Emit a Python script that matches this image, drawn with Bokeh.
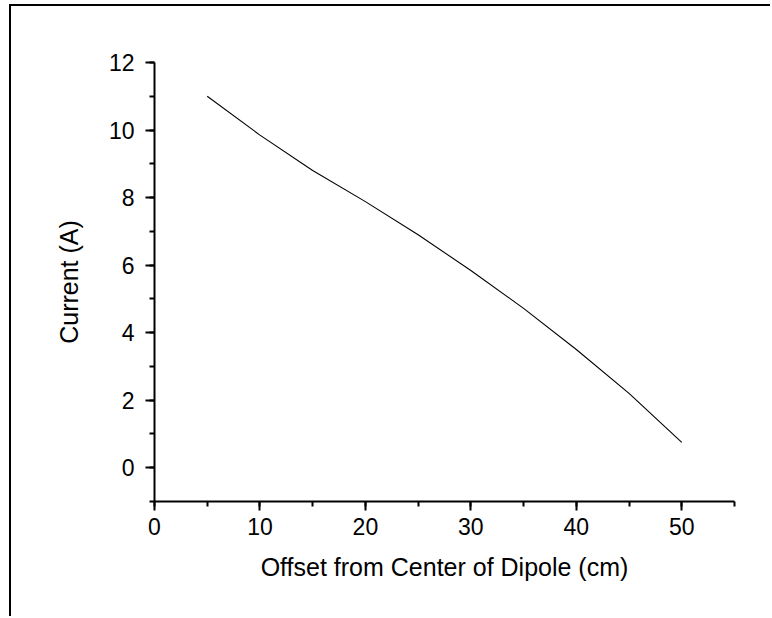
from bokeh.plotting import figure
from bokeh.models import Range1d, SingleIntervalTicker
from bokeh.embed import file_html
from bokeh.resources import INLINE

# Data
offset_cm = [5, 10, 15, 20, 25, 30, 35, 40, 45, 50]
current_a = [11.0, 9.85, 8.8, 7.88, 6.9, 5.84, 4.72, 3.5, 2.2, 0.75]

x_label = "Offset from Center of Dipole (cm)"
y_label = "Current (A)"

FONT = "Liberation Sans"

p = figure(width=761, height=612, output_backend="svg", toolbar_location=None,
           x_range=Range1d(0, 55), y_range=Range1d(-1, 12))
p.margin = (4, 0, 0, 9)
p.styles = {"border-top": "2px solid black", "border-left": "2px solid black"}

p.min_border_left = 143
p.min_border_right = 38
p.min_border_top = 56
p.min_border_bottom = 117
p.outline_line_color = None
p.background_fill_color = "white"
p.border_fill_color = "white"
p.grid.visible = False

p.line(offset_cm, current_a, line_color="black", line_width=1.1)

p.xaxis.ticker = SingleIntervalTicker(interval=10, num_minor_ticks=2)
p.yaxis.ticker = SingleIntervalTicker(interval=2, num_minor_ticks=2)
p.xaxis.axis_label = x_label
p.yaxis.axis_label = y_label

for ax in (p.xaxis, p.yaxis):
    ax.axis_line_width = 2
    ax.axis_line_color = "black"
    ax.major_tick_line_width = 2
    ax.minor_tick_line_width = 2
    ax.major_tick_line_color = "black"
    ax.minor_tick_line_color = "black"
    ax.major_tick_in = 0
    ax.major_tick_out = 9
    ax.minor_tick_in = 0
    ax.minor_tick_out = 5
    ax.major_label_text_font = FONT
    ax.major_label_text_font_size = "23px"
    ax.major_label_text_color = "black"
    ax.axis_label_text_font = FONT
    ax.axis_label_text_font_size = "25px"
    ax.axis_label_text_font_style = "normal"
    ax.axis_label_text_color = "black"

p.xaxis.major_label_standoff = 7
p.yaxis.major_label_standoff = 11
p.xaxis.axis_label_standoff = 15
p.yaxis.axis_label_standoff = 23
p.yaxis.major_label_orientation = "horizontal"

open("out.html", "w").write(file_html(p, INLINE))
